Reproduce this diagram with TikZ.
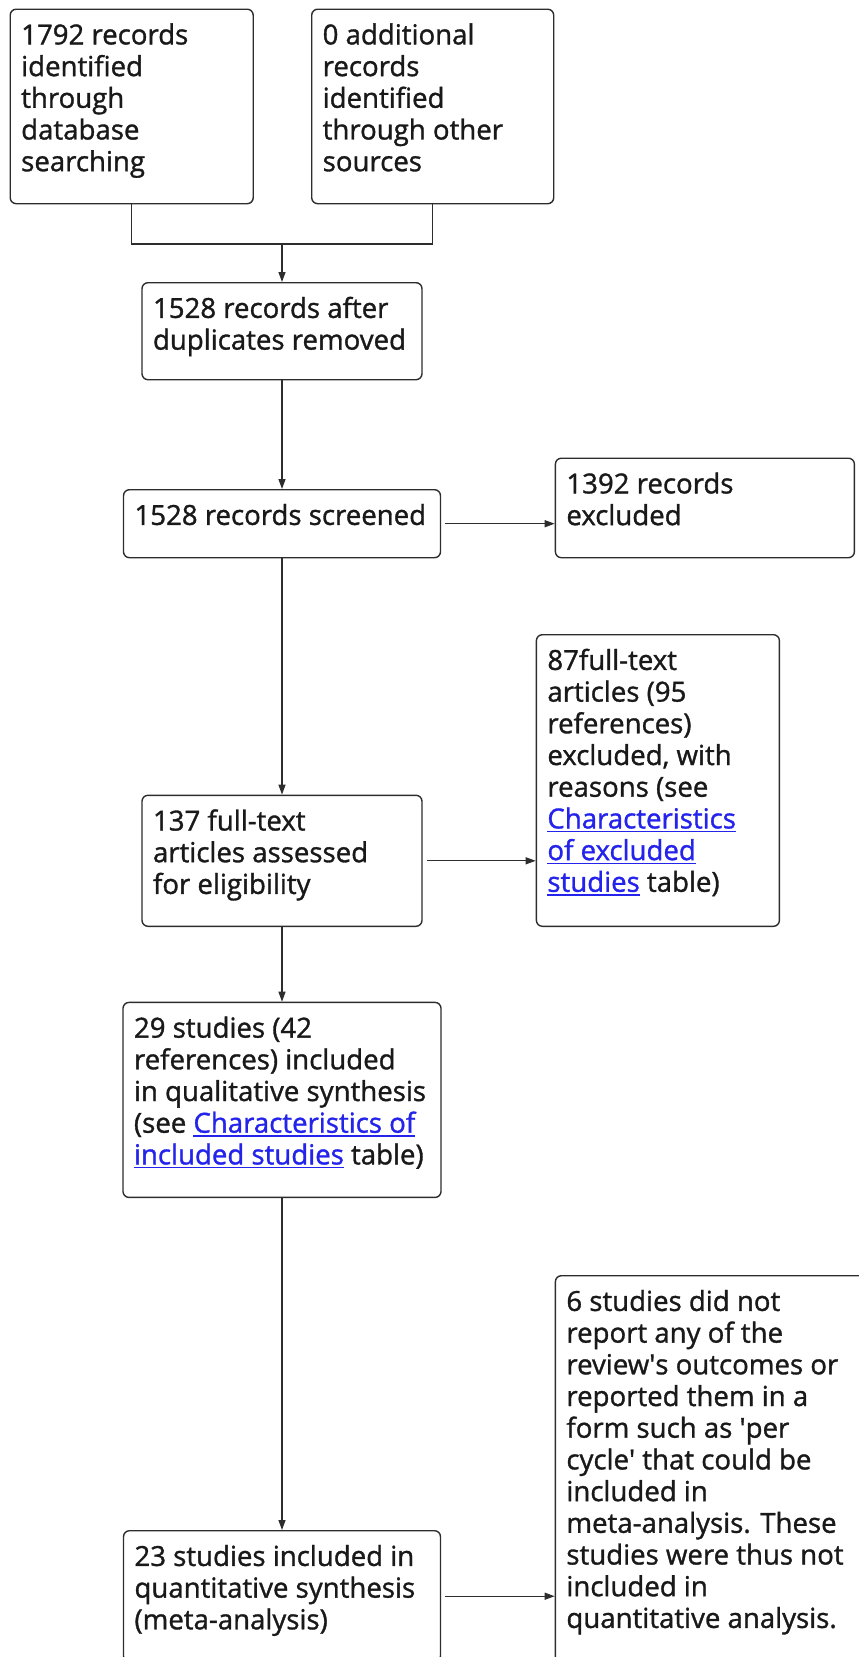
\documentclass[tikz,border=0pt]{standalone}
\usepackage{fontspec}
\setmainfont{Open Sans}
\newfontfamily\stagefont{Open Sans}[FakeBold=1.2]
\usetikzlibrary{arrows.meta}

\definecolor{linkblue}{RGB}{35,35,235}
\definecolor{boxgray}{RGB}{45,45,45}
% underlined link text
\newcommand{\reflink}[1]{\textcolor{linkblue}{\setbox0\hbox{#1}%
  \rlap{\vrule height -2.6pt depth 3.9pt width \wd0}\box0}}
% width, height, text -- text sits at the top of the box
\newcommand{\stagetext}[3]{\parbox[c][#2][t]{#1}{\raggedright\leftskip=11pt\relax
  \vspace*{13pt}\strut#3}}

\begin{document}
\begin{tikzpicture}[x=1pt, y=-1pt, line width=1.3pt, draw=boxgray,
  >={Triangle[length=10pt,width=7pt]},
  stage/.style = {draw=boxgray, line width=1.4pt, rounded corners=6pt,
    inner sep=0pt, align=left, text=black!90,
    font=\stagefont\fontsize{27.6pt}{31.7pt}\selectfont}]
\path[use as bounding box] (0,0) rectangle (859,1657);
%\node[stage] (name) at (corner) {\stagetext{width}{height}{text}};
\node[stage, anchor=north west] (ident) at (9.5,8.5)
  {\stagetext{243pt}{194.5pt}{1792 records\\identified\\through\\database\\searching}};
\node[stage, anchor=north west] (other) at (311,8.5)
  {\stagetext{242pt}{194.5pt}{0 additional\\records\\identified\\through other\\sources}};
\node[stage, anchor=north] (dedup) at (282,282)
  {\stagetext{280pt}{97pt}{1528 records after\\duplicates removed}};
\node[stage, anchor=north] (screen) at (282,489)
  {\stagetext{317pt}{68pt}{1528 records screened}};
\node[stage, anchor=north west] (excl) at (554.7,457.5)
  {\stagetext{299pt}{99.5pt}{1392 records\\excluded}};
\node[stage, anchor=north] (fulltext) at (282,794.6)
  {\stagetext{280pt}{131pt}{137 full-text\\articles assessed\\for eligibility}};
\node[stage, anchor=north west] (ftexcl) at (535.7,634)
  {\stagetext{243pt}{291.6pt}{87full-text\\articles (95\\references)\\excluded, with\\reasons (see\\
  \reflink{Characteristics}\\\reflink{of excluded}\\\reflink{studies} table)}};
\node[stage, anchor=north] (qual) at (282,1001.7)
  {\stagetext{318pt}{195pt}{29 studies (42\\references) included\\in qualitative synthesis\\
  (see \reflink{Characteristics of}\\\reflink{included studies} table)}};
\node[stage, anchor=north] (quant) at (282,1530)
  {\stagetext{317pt}{131pt}{23 studies included in\\quantitative synthesis\\(meta-analysis)}};
\node[stage, anchor=north west] (note) at (554.7,1275)
  {\stagetext{320pt}{420pt}{6 studies did not\\report any of the\\review\textquotesingle s outcomes or\\
  reported them in a\\form such as \textquotesingle per\\cycle\textquotesingle\ that could be\\included in\\
  meta-analysis. These\\studies were thus not\\included in\\quantitative analysis.}};
% merge of the two sources
\coordinate (merge) at (282,244);
\draw (ident.south) |- (merge) -| (other.south);
\draw[->] (merge) -- (dedup.north);
\draw[->] (dedup) -- (screen);
\draw[->] (screen) -- (fulltext);
\draw[->] (fulltext) -- (qual);
\draw[->] (qual) -- (quant);
\draw[->, shorten <=4pt] (screen.east) -- (screen.east -| excl.west);
\draw[->, shorten <=4pt] (fulltext.east) -- (fulltext.east -| ftexcl.west);
\draw[->, shorten <=4pt] (quant.east) -- (quant.east -| note.west);
\end{tikzpicture}
\end{document}
